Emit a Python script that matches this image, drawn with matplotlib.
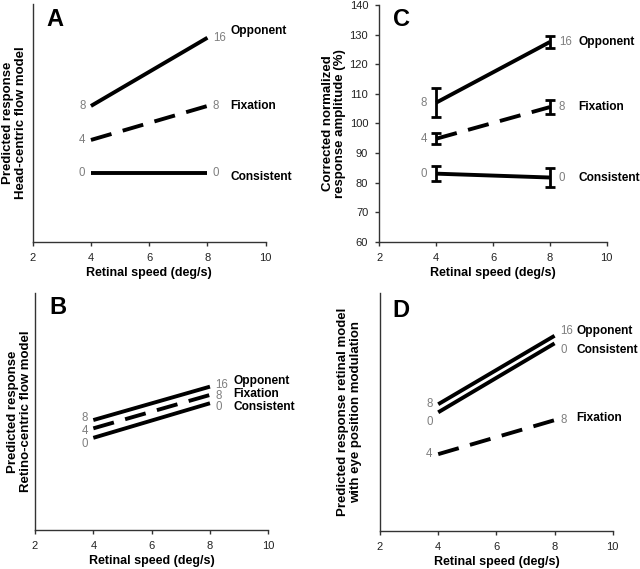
import matplotlib.pyplot as plt

plt.rcParams['font.family'] = ['Liberation Sans', 'DejaVu Sans']

speed = [4, 8]
names = ['Opponent', 'Fixation', 'Consistent']
start_tags = ['8', '4', '0']
end_tags = ['16', '8', '0']

# predicted responses (arbitrary units, 0-100 axis)
head_vals = {'Opponent': [57.1, 85.8], 'Fixation': [42.8, 57.1], 'Consistent': [28.8, 28.8]}
retino_vals = {'Opponent': [46.4, 60.5], 'Fixation': [42.9, 57.0], 'Consistent': [38.9, 53.5]}
eyepos_vals = {'Opponent': [53.2, 82.0], 'Fixation': [32.2, 46.5], 'Consistent': [49.8, 78.8]}

# measured response amplitude (%) with error bars
meas_vals = {'Opponent': [107.0, 127.5], 'Fixation': [94.8, 105.5], 'Consistent': [83.0, 81.7]}
meas_err = {'Opponent': [5.0, 2.0], 'Fixation': [1.8, 2.3], 'Consistent': [2.5, 3.2]}

gray = '#7f7f7f'
dash = (5.5, 3)
fs = 8.6

fig = plt.figure(figsize=(6.4, 5.69), dpi=100)
axA = fig.add_axes([0.0511, 0.5752, 0.364, 0.4178])
axC = fig.add_axes([0.5927, 0.5752, 0.3553, 0.416])
axB = fig.add_axes([0.0547, 0.0685, 0.3645, 0.4165])
axD = fig.add_axes([0.5938, 0.0673, 0.3636, 0.4178])


def style(ax, letter, ylabel, lx, lxl, lyl, yticks=False):
    for s in ['top', 'right']:
        ax.spines[s].set_visible(False)
    for s in ['left', 'bottom']:
        ax.spines[s].set_color('#333333')
        ax.spines[s].set_linewidth(1.0)
    ax.set_xlim(2, 10)
    ax.set_xticks([2, 4, 6, 8, 10])
    ax.tick_params(axis='both', direction='out', length=3, width=1, color='#333333',
                   labelsize=8, labelcolor='#222222', pad=5)
    if not yticks:
        ax.set_yticks([])
    ax.set_xlabel('Retinal speed (deg/s)', fontsize=9, fontweight='bold', labelpad=3)
    ax.set_ylabel(ylabel, fontsize=9.5, fontweight='bold', linespacing=1.05)
    ax.yaxis.set_label_coords(lx, 0.5)
    ax.text(lxl, lyl, letter, transform=ax.transAxes, fontsize=17, fontweight='bold',
            va='center', ha='left')


def draw(ax, vals, name_y, name_x, errs=None, s_dy=(0, 0, 0), e_dy=(0, 0, 0)):
    for i, n in enumerate(names):
        y = vals[n]
        kw = dict(color='black', lw=2.8, solid_capstyle='butt')
        if n == 'Fixation':
            kw['dashes'] = dash
        ax.plot(speed, y, **kw)
        if errs is not None:
            ax.errorbar(speed, y, yerr=errs[n], fmt='none', ecolor='black',
                        elinewidth=2, capsize=3.5, capthick=2)
        off = 6.5 if errs is not None else 4
        ax.annotate(start_tags[i], (speed[0], y[0]), xytext=(-off, s_dy[i]),
                    textcoords='offset points', ha='right', va='center',
                    fontsize=8.3, color=gray)
        ax.annotate(end_tags[i], (speed[1], y[1]), xytext=(off, e_dy[i]),
                    textcoords='offset points', ha='left', va='center',
                    fontsize=8.3, color=gray)
        ax.text(name_x, name_y[i], n, ha='left', va='center', fontsize=fs,
                fontweight='bold')


style(axA, 'A', 'Predicted response\nHead-centric flow model', -0.026, 0.057, 0.933)
axA.set_ylim(0, 100)
draw(axA, head_vals, [88.6, 57.1, 27.2], 8.8)

style(axC, 'C', 'Corrected normalized\nresponse amplitude (%)', -0.146, 0.062, 0.94, yticks=True)
axC.set_ylim(60, 140)
axC.set_yticks(range(60, 141, 10))
draw(axC, meas_vals, [127.5, 105.5, 81.7], 9.0, errs=meas_err)

style(axB, 'B', 'Predicted response\nRetino-centric flow model', -0.014, 0.06, 0.937)
axB.set_ylim(0, 100)
draw(axB, retino_vals, [63.0, 57.4, 51.8], 8.8,
     s_dy=(1.5, -1.7, -4.5), e_dy=(1.5, -0.5, -3))

style(axD, 'D', 'Predicted response retinal model\nwith eye position modulation', -0.079, 0.055, 0.926)
axD.set_ylim(0, 100)
draw(axD, eyepos_vals, [84.1, 47.5, 76.0], 8.74,
     s_dy=(0.5, 0, -6.8), e_dy=(3.6, 0, -4.8))

fig.savefig('out.png', dpi=100)
